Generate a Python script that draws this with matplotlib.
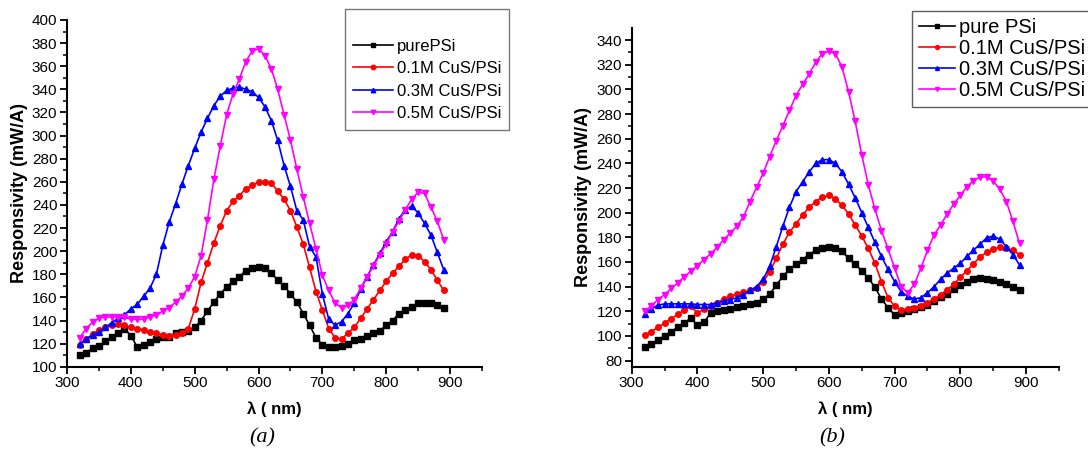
import numpy as np
import matplotlib.pyplot as plt

plt.rcParams['font.family'] = ['Liberation Sans', 'DejaVu Sans']

wl = np.arange(320, 900, 10)

# panel (a)
a_pure = [110, 112, 116, 118, 122, 126, 129, 133, 127, 117, 119, 121, 124, 126, 126, 129, 130, 131, 134, 140,
          148, 156, 163, 169, 174, 178, 183, 185, 186, 185, 181, 175, 170, 163, 156, 146, 136, 125, 119, 117,
          117, 118, 120, 123, 124, 127, 129, 131, 136, 140, 146, 149, 152, 155, 155, 155, 153, 151]
a_01 = [119, 124, 128, 132, 134, 136, 137, 136, 134, 133, 132, 130, 129, 127.5, 127, 127.5, 129, 133, 150, 173,
        190, 207, 222, 235, 243, 248, 254, 257, 260, 260, 259, 252, 245, 235, 221, 206, 186, 165, 149, 133,
        125, 124, 129, 134, 142, 150, 158, 166, 174, 181, 187, 193, 197, 196, 191, 184, 175, 166]
a_03 = [120, 124, 127.5, 130, 134, 138, 142, 145, 150, 154, 161, 168, 180, 205, 225, 241, 258, 274, 289, 303,
        315, 326, 334, 339, 341, 342, 340, 338, 333, 325, 313, 296, 274, 256, 235, 227, 204, 195, 163, 141,
        136, 139, 146, 155, 167, 178, 188, 198, 208, 217, 228, 236, 239, 233, 224, 214, 199, 184]
a_05 = [125, 133, 138.5, 142, 143, 143, 143, 143, 141, 141, 141, 143, 145, 148, 151, 156, 161, 168, 178, 196,
        227, 262, 291, 318, 336, 349, 364, 373, 375, 369, 358, 340, 318, 296, 271, 247, 224, 202, 179, 166,
        155, 151, 153, 158, 168, 178, 187, 197, 206, 217, 226, 236, 245, 251, 250, 238, 226, 210]

# panel (b)
b_pure = [91, 93.5, 97, 100, 103.5, 107, 110.5, 114.5, 108.5, 111, 118.5, 120, 121, 122, 123.5, 124.5, 126, 127,
          130, 134, 141, 148.5, 154, 158, 162, 166, 169.5, 171, 172.5, 171, 168.5, 163, 158, 153, 147, 139.5,
          130, 123, 117, 118.5, 120.5, 122, 123.5, 125.5, 128, 131.5, 134, 138, 141.5, 144, 146, 147, 146, 145,
          143.5, 142, 139.5, 137.5]
b_01 = [101, 103.5, 107, 110.5, 114, 117.5, 121, 124, 118.5, 122, 124.5, 127, 130, 132, 134, 135.5, 137, 139,
        144, 152, 163, 174.5, 184, 191, 198, 204.5, 209, 212.5, 214, 211, 206, 199, 190, 181, 171, 159, 144,
        131, 124, 121, 121.5, 123, 124.5, 127, 130, 133.5, 137.5, 142, 147.5, 153, 158.5, 164, 168, 170.5,
        172, 171, 169.5, 166]
b_03 = [118, 122, 125, 126, 126, 126, 126, 126, 125.5, 125.5, 125.5, 127, 128, 129.5, 131, 133.5, 137, 140,
        146, 156.5, 172.5, 189, 204.5, 217, 225, 233, 240, 243, 243, 240, 233, 223, 212, 200, 188, 176, 164.5,
        154, 144, 136, 132, 130, 131, 135, 140, 146, 151, 155, 159, 164.5, 169.5, 174.5, 179.5, 181, 178.5,
        172.5, 166, 157.5]
b_05 = [120, 124.5, 129.5, 133.5, 138.5, 143, 148, 152.5, 157, 162, 166.5, 172, 178, 183.5, 189, 196.5, 209,
        220.5, 232, 245.5, 258.5, 270.5, 283, 295, 304, 312.5, 322, 329, 331, 329, 318, 298, 274, 247, 222.5,
        203, 185.5, 170.5, 155, 140, 135, 142, 155, 169.5, 182, 190, 199, 207, 214, 221, 226, 229, 229, 225.5,
        219, 209, 193, 175]

colors = ['black', 'red', 'blue', 'magenta']
markers = ['s', 'o', '^', 'v']
labels_a = ['purePSi', '0.1M CuS/PSi', '0.3M CuS/PSi', '0.5M CuS/PSi']
labels_b = ['pure PSi', '0.1M CuS/PSi', '0.3M CuS/PSi', '0.5M CuS/PSi']

fig = plt.figure(figsize=(10.88, 4.5), dpi=100)
ax1 = fig.add_axes([0.0616, 0.185, 0.3814, 0.7706])
ax2 = fig.add_axes([0.5806, 0.185, 0.3927, 0.7533])


def style(ax, ylim, ymaj, caption):
    ax.set_xlim(300, 950)
    ax.set_ylim(*ylim)
    ax.set_xticks(np.arange(300, 901, 100))
    ax.set_xticks(np.arange(350, 951, 100), minor=True)
    ax.set_yticks(ymaj)
    ax.set_yticks(np.arange(ymaj[0] + 10, ymaj[-1] + 10, 20), minor=True)
    for s in ['top', 'right']:
        ax.spines[s].set_visible(False)
    for s in ['left', 'bottom']:
        ax.spines[s].set_linewidth(1.5)
    ax.tick_params(which='major', direction='out', length=5, width=1.3, labelsize=11, pad=2)
    ax.tick_params(which='minor', direction='out', length=3, width=1.1)
    ax.set_xlabel('λ ( nm)', fontsize=12, fontweight='bold', labelpad=8)
    ax.set_ylabel('Responsivity (mW/A)', fontsize=13, fontweight='bold', labelpad=3)
    box = ax.get_position()
    fig.text(box.x0 + 0.47 * box.width, 1 - 438 / 450, caption, ha='center', va='center',
             fontsize=16, fontstyle='italic', family='Liberation Serif')


lines = []
for ys, c, m, lab in zip([a_pure, a_01, a_03, a_05], colors, markers, labels_a):
    l, = ax1.plot(wl, ys, color=c, marker=m, markersize=4, linewidth=1.2, label=lab)
    lines.append(l)
style(ax1, (100, 400), np.arange(100, 401, 20), '(a)')

lines_b = []
for ys, c, m, lab in zip([b_pure, b_01, b_03, b_05], colors, markers, labels_b):
    l, = ax2.plot(wl, ys, color=c, marker=m, markersize=4, linewidth=1.2, label=lab)
    lines_b.append(l)
style(ax2, (75, 350), np.arange(80, 341, 20), '(b)')

leg1 = fig.legend(lines, labels_a, loc='upper left', bbox_to_anchor=(345 / 1088, 1 - 9 / 450),
                  title=' ', title_fontsize=11, fontsize=12, frameon=True, fancybox=False,
                  edgecolor='#555555', handlelength=2.4, handletextpad=0.2, borderpad=0.5,
                  labelspacing=0.45, markerscale=0.8, borderaxespad=0)
leg1.get_frame().set_linewidth(1.0)
leg2 = fig.legend(lines_b, labels_b, loc='upper left', bbox_to_anchor=(912 / 1088, 1 - 11 / 450),
                  fontsize=14.5, frameon=True, fancybox=False, edgecolor='#333333', handlelength=1.8,
                  handletextpad=0.2, borderpad=0.35, labelspacing=0.1, markerscale=0.7, borderaxespad=0)
leg2.get_frame().set_linewidth(1.0)

fig.savefig('out.png', dpi=100)
